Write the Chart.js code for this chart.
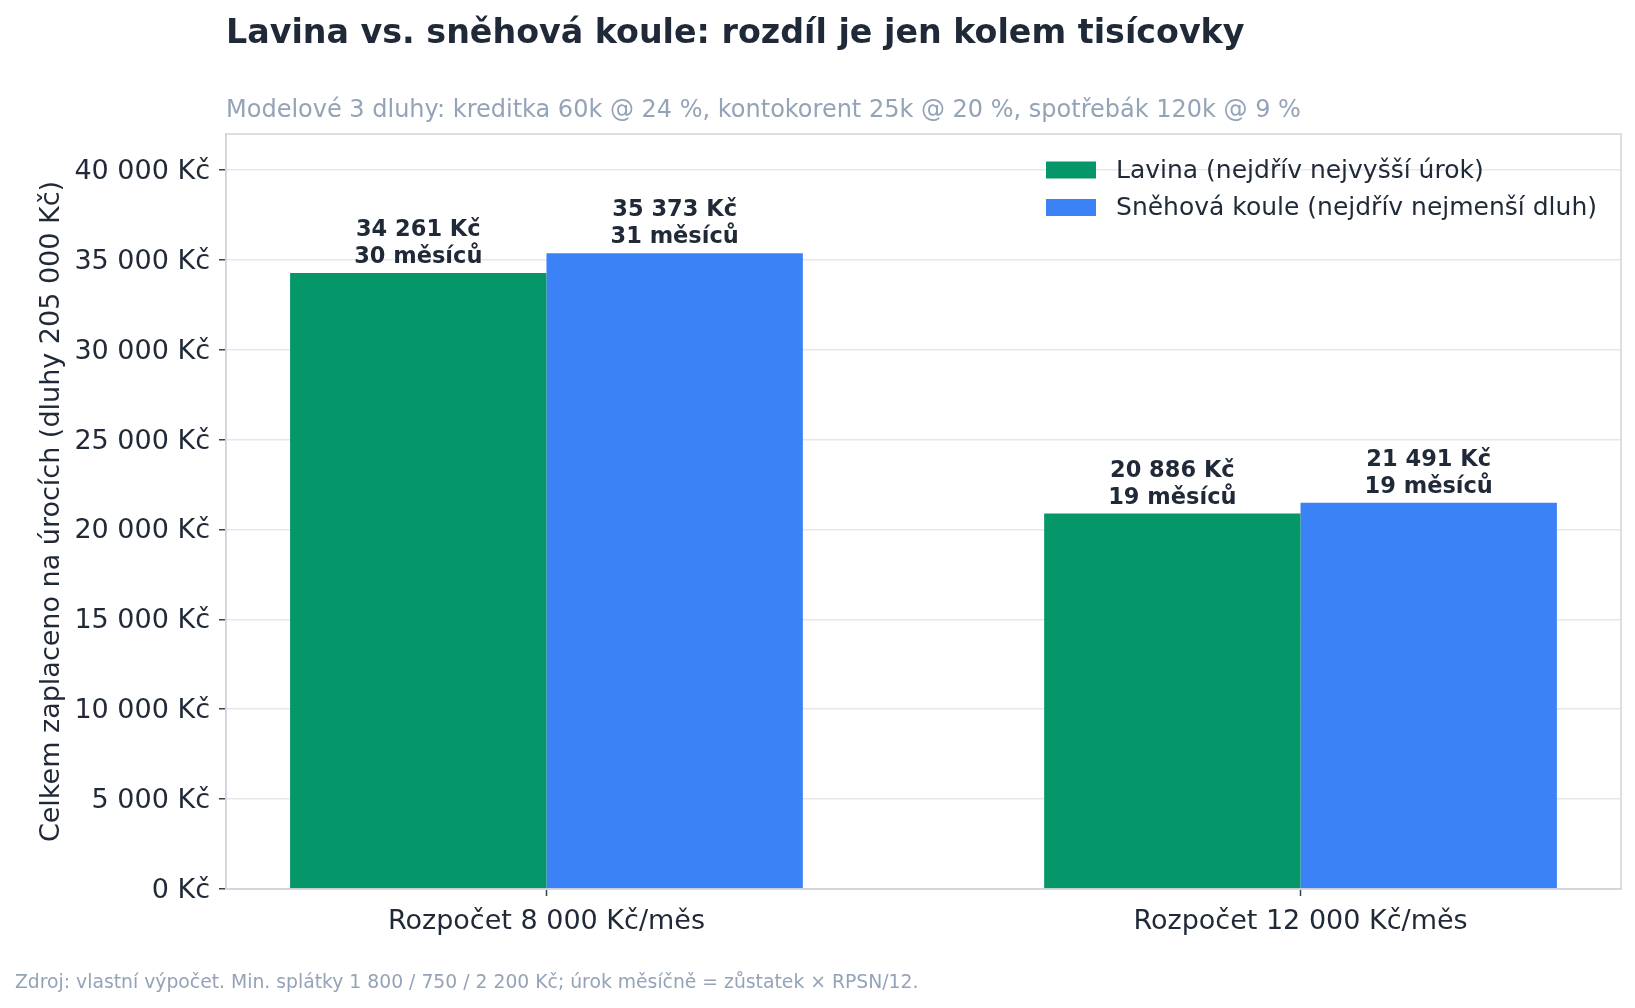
<!DOCTYPE html>
<html lang="cs">
<head>
<meta charset="utf-8">
<title>Lavina vs. sněhová koule</title>
<script src="https://cdn.jsdelivr.net/npm/chart.js@4.4.1/dist/chart.umd.min.js"></script>
<style>
  html, body { margin: 0; padding: 0; background: #ffffff; }
  #wrap { width: 1635px; height: 1008px; }
</style>
</head>
<body>
<div id="wrap"><canvas id="debtChart" width="1635" height="1008"></canvas></div>
<script>
// Data
const categories = ['Rozpočet 8 000 Kč/měs', 'Rozpočet 12 000 Kč/měs'];
const seriesNames = ['Lavina (nejdřív nejvyšší úrok)', 'Sněhová koule (nejdřív nejmenší dluh)'];
const lavinaInterest = [34261, 20886];
const snowballInterest = [35373, 21491];
const lavinaMonths = [30, 19];
const snowballMonths = [31, 19];
const yTickValues = [0, 5000, 10000, 15000, 20000, 25000, 30000, 35000, 40000];
const yMax = 42000;

const titleText = 'Lavina vs. sněhová koule: rozdíl je jen kolem tisícovky';
const subtitleText = 'Modelové 3 dluhy: kreditka 60k @ 24 %, kontokorent 25k @ 20 %, spotřebák 120k @ 9 %';
const footerText = 'Zdroj: vlastní výpočet. Min. splátky 1 800 / 750 / 2 200 Kč; úrok měsíčně = zůstatek × RPSN/12.';

const FONT = '"DejaVu Sans", Verdana, sans-serif';
const DARK = '#1f2937';
const MUTED = '#94a3b8';

function kc(v) {
    return String(v).replace(/\B(?=(\d{3})+(?!\d))/g, ' ') + ' Kč';
}

// title, subtitle, footer, frame, legend and bar labels
const decorPlugin = {
    id: 'decor',
    afterDraw(chart) {
        const c = chart.ctx;
        const area = chart.chartArea;
        c.save();

        c.fillStyle = DARK;
        c.font = 'bold 33.3px ' + FONT;
        c.textAlign = 'left';
        c.textBaseline = 'alphabetic';
        c.fillText(titleText, area.left, 43);

        c.fillStyle = MUTED;
        c.font = '24px ' + FONT;
        c.fillText(subtitleText, area.left, 117);

        c.font = '18.8px ' + FONT;
        c.fillText(footerText, 15, 988);

        // frame
        c.strokeStyle = '#d1d5db';
        c.lineWidth = 1.5;
        c.strokeRect(area.left, area.top, area.right - area.left, area.bottom - area.top);

        // bar labels
        const months = [lavinaMonths, snowballMonths];
        c.fillStyle = DARK;
        c.font = 'bold 22.5px ' + FONT;
        c.textAlign = 'center';
        chart.data.datasets.forEach((ds, di) => {
            chart.getDatasetMeta(di).data.forEach((bar, i) => {
                c.fillText(kc(ds.data[i].y), bar.x, bar.y - 37);
                c.fillText(months[di][i] + ' měsíců', bar.x, bar.y - 10);
            });
        });

        // legend
        c.font = '25px ' + FONT;
        c.textAlign = 'left';
        c.textBaseline = 'middle';
        let maxW = 0;
        chart.data.datasets.forEach(ds => { maxW = Math.max(maxW, c.measureText(ds.label).width); });
        const boxW = 50, boxH = 17, gap = 20;
        const lx = area.right - 24 - maxW - gap - boxW;
        chart.data.datasets.forEach((ds, di) => {
            const cy = area.top + 36 + di * 37.5;
            c.fillStyle = ds.backgroundColor;
            c.fillRect(lx, cy - boxH / 2, boxW, boxH);
            c.fillStyle = DARK;
            c.fillText(ds.label, lx + boxW + gap, cy + 1);
        });

        c.restore();
    }
};

const ctx = document.getElementById('debtChart').getContext('2d');
const debtChart = new Chart(ctx, {
    type: 'bar',
    data: {
        datasets: [
            {
                label: seriesNames[0],
                data: lavinaInterest.map((v, i) => ({ x: i, y: v })),
                backgroundColor: '#059669',
                borderWidth: 0
            },
            {
                label: seriesNames[1],
                data: snowballInterest.map((v, i) => ({ x: i, y: v })),
                backgroundColor: '#3b82f6',
                borderWidth: 0
            }
        ]
    },
    options: {
        responsive: false,
        animation: false,
        devicePixelRatio: 1,
        categoryPercentage: 0.68,
        barPercentage: 1.0,
        layout: { padding: { top: 134, right: 14, bottom: 0, left: 0 } },
        plugins: {
            legend: { display: false },
            tooltip: { enabled: false }
        },
        scales: {
            x: {
                type: 'linear',
                min: -0.425,
                max: 1.425,
                offset: false,
                afterBuildTicks: (scale) => {
                    scale.ticks = categories.map((c, i) => ({ value: i }));
                },
                afterFit: (scale) => { scale.height = 119; },
                ticks: {
                    autoSkip: false,
                    maxRotation: 0,
                    padding: 10,
                    color: DARK,
                    font: { family: FONT, size: 27 },
                    callback: (v) => categories[v]
                },
                grid: {
                    offset: false,
                    drawOnChartArea: false,
                    drawTicks: true,
                    tickLength: 7,
                    tickColor: '#334155',
                    tickWidth: 1.5
                },
                border: { color: '#d1d5db', width: 1.5 }
            },
            y: {
                min: 0,
                max: yMax,
                afterBuildTicks: (scale) => {
                    scale.ticks = yTickValues.map(v => ({ value: v }));
                },
                afterFit: (scale) => { scale.width = 226; },
                ticks: {
                    padding: 9,
                    labelOffset: 2,
                    color: DARK,
                    font: { family: FONT, size: 27 },
                    callback: (v) => kc(v)
                },
                grid: {
                    color: '#e5e7eb',
                    lineWidth: 1.5,
                    drawTicks: true,
                    tickLength: 7,
                    tickColor: '#334155',
                    tickWidth: 1.5
                },
                border: { color: '#d1d5db', width: 1.5 },
                title: {
                    display: true,
                    text: 'Celkem zaplaceno na úrocích (dluhy 205 000 Kč)',
                    color: DARK,
                    font: { family: FONT, size: 27 },
                    padding: { top: 36, bottom: 0 }
                }
            }
        }
    },
    plugins: [decorPlugin]
});
</script>
</body>
</html>
